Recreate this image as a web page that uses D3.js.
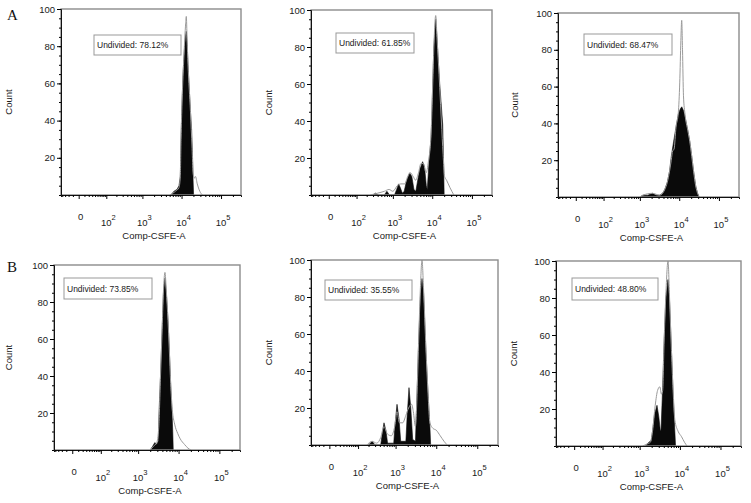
<!DOCTYPE html>
<html>
<head>
<meta charset="utf-8">
<script src="https://cdn.jsdelivr.net/npm/d3@7"></script>
<style>
body { margin: 0; background: #fff; }
text { font-family: "Liberation Sans", Arial, sans-serif; fill: #1a1a1a; }
</style>
</head>
<body>
<div id="chart"></div>
<script>
// ---- data: [intensity, count] ----
const undivided = ["Undivided: 78.12%", "Undivided: 61.85%", "Undivided: 68.47%",
                   "Undivided: 73.85%", "Undivided: 35.55%", "Undivided: 48.80%"];

const fillA1 = [[5400,0],[6400,2],[7660,3],[8600,5],[9300,10],[9700,30],[10300,50],[10900,65],[11800,78],[12700,86],[13200,88],[13800,82],[14600,70],[15600,58],[16800,45],[18000,35],[19000,20],[19600,8],[20200,0]];
const lineA1 = [[5000,0],[6000,1],[7000,2],[8600,4],[9300,10],[9700,30],[10300,50],[11500,75],[12700,92],[13200,96],[13800,84],[14600,70],[16800,45],[18500,25],[19600,12],[21000,9],[22500,10],[25000,6],[29000,2],[34000,0]];

const fillA2 = [[300,0],[350,1],[420,0],[600,0],[700,2],[820,0],[1100,0],[1250,3],[1400,6],[1550,4],[1750,1],[1950,2],[2200,7],[2670,12],[3050,10],[3450,3],[3850,2],[4300,8],[4900,14],[5720,18],[6400,15],[7100,5],[7500,3],[8300,18],[9300,30],[9700,40],[10300,60],[11000,80],[12250,95],[13200,85],[14000,75],[15450,60],[17000,48],[18400,38],[19300,18],[20000,0]];
const lineA2 = [[250,0],[400,1],[600,2],[800,3],[1000,2],[1300,5],[1600,6],[2000,6],[2400,10],[2800,12],[3300,10],[3800,8],[4500,12],[5200,17],[6000,17],[7000,12],[8000,18],[9300,32],[10300,60],[11000,80],[12250,97],[13200,85],[15450,58],[17000,40],[18800,22],[20500,10],[23000,8],[28000,4],[35000,0]];

const fillA3 = [[1000,0],[1200,1],[1600,1],[2100,2],[2600,1],[3200,1],[3800,2],[4300,4],[5000,8],[5700,14],[6300,22],[7200,30],[8300,38],[9500,45],[10700,48],[11600,49],[12800,47],[14500,42],[16500,36],[18500,30],[20700,22],[23000,14],[26000,6],[29000,2],[32000,0]];
const lineA3 = [[1000,0],[1200,1],[2100,2],[3200,1],[4300,4],[5000,8],[5700,14],[6300,20],[6800,25],[7400,26],[8300,38],[9500,46],[10300,62],[11000,85],[11550,96],[12100,80],[12800,55],[14000,45],[16500,36],[18500,30],[20700,22],[23000,14],[26000,6],[29000,2],[32000,0]];

const fillB1 = [[2000,0],[2300,2],[2600,4],[2900,3],[3200,5],[3300,20],[3600,40],[3900,62],[4250,85],[4630,93],[5000,85],[5500,70],[5900,55],[6400,35],[6900,20],[7200,10],[7400,0]];
const lineB1 = [[2000,0],[2400,2],[2900,4],[3250,12],[3600,40],[3900,62],[4250,86],[4630,96],[5000,86],[5500,70],[5900,55],[6400,36],[7000,22],[8000,14],[9500,9],[11000,6],[14000,3],[17000,1],[20000,0]];

const fillB2 = [[200,0],[250,2],[300,0],[420,0],[460,6],[510,12],[570,8],[630,1],[900,1],[960,10],[1085,22],[1220,14],[1340,2],[1800,2],[1930,15],[2150,31],[2380,20],[2650,3],[3100,2],[3300,20],[3700,55],[4100,80],[4485,90],[4900,82],[5600,50],[6300,28],[7000,10],[7300,0]];
const lineB2 = [[180,0],[250,2],[330,1],[420,4],[510,10],[620,6],[780,5],[950,10],[1085,18],[1250,12],[1500,12],[1800,16],[2100,20],[2500,22],[2750,18],[3100,10],[3300,20],[3700,55],[4100,85],[4485,100],[4900,84],[5600,52],[6300,28],[7000,12],[8300,9],[10000,8],[12500,5],[15500,2],[18500,0]];

const fillB3 = [[1400,0],[1700,2],[1950,3],[2100,8],[2350,17],[2710,22],[3000,16],[3250,9],[3400,8],[3650,25],[4050,55],[4500,80],[5080,90],[5550,78],[6100,55],[6800,28],[7500,8],[7800,0]];
const lineB3 = [[1200,0],[1500,1],[1850,2],[2100,8],[2450,22],[2800,30],[3190,32],[3500,28],[3750,30],[4050,55],[4500,82],[5080,100],[5550,80],[6100,55],[6800,30],[7500,14],[9000,8],[11000,5],[13000,2],[15000,0]];

const fills = [fillA1, fillA2, fillA3, fillB1, fillB2, fillB3];
const lines = [lineA1, lineA2, lineA3, lineB1, lineB2, lineB3];

// axis ticks
const yLabelTicks = [20, 40, 60, 80, 100];
const xTickValues = [0, 1e2, 1e3, 1e4, 1e5];
const xTickExps = [null, "2", "3", "4", "5"];
const xTitle = "Comp-CSFE-A";
const yTitle = "Count";
const rowLetters = ["A", "B"];

// ---- layout ----
const width = 751, height = 503;
const frames = [
  { x: 61,  y: 9,   w: 180, h: 186, countX: -49, box: [33, 26, 87, 20] },
  { x: 311, y: 10,  w: 181, h: 185, countX: -39, box: [25, 23, 78, 20] },
  { x: 558, y: 13,  w: 181, h: 184, countX: -40, box: [26, 21, 88, 21] },
  { x: 54,  y: 265, w: 186, h: 185, countX: -42, box: [10, 13, 88, 21] },
  { x: 311, y: 260, w: 187, h: 185, countX: -39, box: [14, 20, 87, 20] },
  { x: 556, y: 261, w: 185, h: 185, countX: -39, box: [16, 17, 86, 22] }
];

const svg = d3.select("#chart").append("svg")
    .attr("width", width)
    .attr("height", height);

svg.append("rect").attr("width", width).attr("height", height).attr("fill", "#fff");

// row letters
svg.selectAll(".row-letter")
  .data(rowLetters)
  .enter().append("text")
    .attr("class", "row-letter")
    .attr("x", 7)
    .attr("y", (d, i) => i === 0 ? 20 : 272)
    .style("font-family", "'Liberation Serif', 'DejaVu Serif', serif")
    .style("font-size", "15px")
    .style("fill", "#111")
    .text(d => d);

// minor x ticks (biexponential style)
const xMinor = [-40, -30, -20, -10].concat(d3.range(10, 100, 10));
[100, 1000, 10000, 100000].forEach(p => d3.range(2, 10).forEach(k => { if (p * k < 300000) xMinor.push(p * k); }));

frames.forEach((f, i) => {
  const g = svg.append("g").attr("transform", `translate(${f.x},${f.y})`);

  const x = d3.scaleSymlog().constant(25).domain([-45, 320000]).range([0, f.w]);
  const y = d3.scaleLinear().domain([0, 100]).range([f.h, 0]);

  g.append("clipPath").attr("id", "clip" + i)
    .append("rect").attr("width", f.w).attr("height", f.h);

  const plot = g.append("g").attr("clip-path", `url(#clip${i})`);

  const area = d3.area()
      .x(d => x(d[0]))
      .y0(y(0))
      .y1(d => y(d[1]));

  const line = d3.line()
      .x(d => x(d[0]))
      .y(d => y(d[1]))
      .curve(d3.curveMonotoneX);

  plot.append("path")
      .datum(fills[i])
      .attr("d", area)
      .attr("fill", "#0a0a0a")
      .attr("stroke", "#0a0a0a")
      .attr("stroke-width", 0.6);

  plot.append("path")
      .datum(lines[i])
      .attr("d", line)
      .attr("fill", "none")
      .attr("stroke", "#9a9a9a")
      .attr("stroke-width", 1);

  // frame
  g.append("rect")
      .attr("width", f.w)
      .attr("height", f.h)
      .attr("fill", "none")
      .attr("stroke", "#8c8c8c")
      .attr("stroke-width", 1.4);

  // y axis
  g.append("g")
      .call(d3.axisLeft(y).tickValues(d3.range(0, 101, 5)).tickSize(2).tickFormat(""))
      .call(a => a.select(".domain").attr("stroke", "#111"));
  const yAx = g.append("g")
      .call(d3.axisLeft(y).tickValues(yLabelTicks).tickSize(4).tickPadding(2));
  yAx.select(".domain").remove();
  yAx.selectAll("text").style("font-size", "9.5px").style("fill", "#1a1a1a");

  // x axis
  const xAxG = g.append("g").attr("transform", `translate(0,${f.h})`);
  xAxG.call(d3.axisBottom(x).tickValues(xMinor).tickSize(2).tickFormat(""))
      .call(a => a.select(".domain").attr("stroke", "#111"));
  xAxG.append("g")
      .call(d3.axisBottom(x).tickValues(xTickValues).tickSize(4).tickFormat(""))
      .call(a => a.select(".domain").remove());

  const xl = g.selectAll(".xlab")
    .data(xTickValues)
    .enter().append("text")
      .attr("class", "xlab")
      .attr("x", d => x(d) + 2)
      .attr("y", (d, j) => f.h + (xTickExps[j] ? 31 : 25))
      .attr("text-anchor", "middle")
      .style("font-size", "9.5px");
  xl.append("tspan").text((d, j) => xTickExps[j] ? "10" : "0");
  xl.filter((d, j) => xTickExps[j])
    .append("tspan")
      .attr("dy", -6)
      .style("font-size", "7.5px")
      .text(d => xTickExps[xTickValues.indexOf(d)]);

  g.append("text")
      .attr("x", f.w / 2 + 3)
      .attr("y", f.h + 44)
      .attr("text-anchor", "middle")
      .style("font-size", "9.5px")
      .text(xTitle);

  g.append("text")
      .attr("transform", `translate(${f.countX},${f.h / 2}) rotate(-90)`)
      .attr("text-anchor", "middle")
      .style("font-size", "9.5px")
      .text(yTitle);

  // undivided gate label
  const b = f.box;
  g.append("rect")
      .attr("x", b[0]).attr("y", b[1])
      .attr("width", b[2]).attr("height", b[3])
      .attr("fill", "#fff")
      .attr("stroke", "#999")
      .attr("stroke-width", 1);
  g.append("text")
      .attr("x", b[0] + 3)
      .attr("y", b[1] + b[3] / 2 + 3)
      .style("font-size", "8.5px")
      .text(undivided[i]);
});
</script>
</body>
</html>
